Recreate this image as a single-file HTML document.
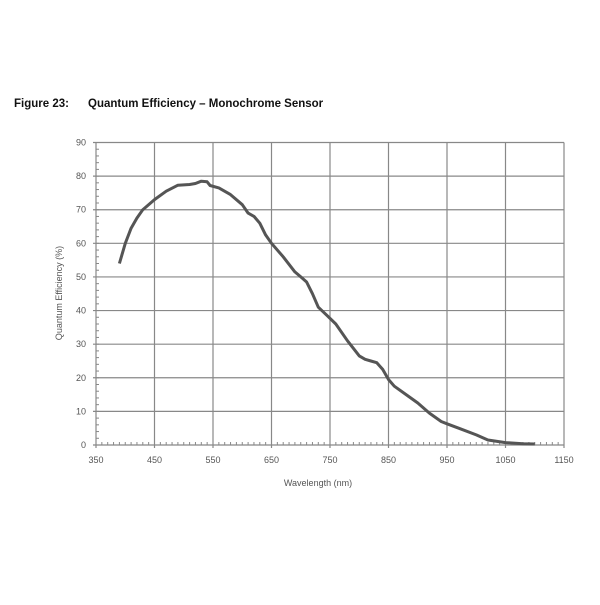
<!DOCTYPE html>
<html><head><meta charset="utf-8"><style>
body{margin:0;background:#fff;}
svg text{font-family:"Liberation Sans",sans-serif;}
</style></head><body>
<svg width="600" height="600" xmlns="http://www.w3.org/2000/svg">
<text x="14" y="107" font-size="11.5" font-weight="bold" fill="#111">Figure 23:</text>
<text x="88" y="107" font-size="11.5" font-weight="bold" fill="#111">Quantum Efficiency – Monochrome Sensor</text>
<g id="grid"></g>
<g id="ticks"></g>
<g id="labels"></g>
<path id="curve" fill="none" stroke="#555" stroke-width="3" stroke-linejoin="round"/>
<text x="318" y="486" font-size="9" fill="#555" text-anchor="middle">Wavelength (nm)</text>
<text transform="translate(62,293) rotate(-90)" font-size="9" fill="#555" text-anchor="middle">Quantum Efficiency (%)</text>
</svg>
<script>
const wavelengths=[390,400,410,420,430,450,470,490,510,520,530,540,545,560,580,600,610,620,630,640,650,670,690,700,710,720,730,745,760,780,800,810,820,830,840,850,860,880,900,920,940,950,970,1000,1020,1050,1080,1100];
const efficiency=[54,60,64.5,67.5,70,73,75.5,77.3,77.5,77.8,78.5,78.3,77.2,76.5,74.5,71.5,69,68,66,62.5,60,56,51.5,50,48.5,45,41,38.5,36,31,26.5,25.5,25,24.5,22.5,19.5,17.5,15,12.5,9.5,7,6.3,5,3,1.5,0.7,0.4,0.3];
const xTicks=[350,450,550,650,750,850,950,1050,1150];
const yTicks=[0,10,20,30,40,50,60,70,80,90];
const X0=96,X1=564,Y0=445,Y1=142.5;
const sx=v=>X0+(v-350)/800*(X1-X0);
const sy=v=>Y0-v/90*(Y0-Y1);
const NS="http://www.w3.org/2000/svg";
function mk(tag,attrs,parent){const e=document.createElementNS(NS,tag);for(const k in attrs)e.setAttribute(k,attrs[k]);document.getElementById(parent).appendChild(e);return e;}
xTicks.forEach(t=>{
 const l=mk('line',{x1:sx(t),x2:sx(t),y1:Y1,y2:Y0+3,stroke:'#888','stroke-width':1.2},'grid');
 
 
 const tx=mk('text',{x:sx(t),y:Y0+18,'font-size':9,fill:'#555','text-anchor':'middle'},'labels');
 tx.textContent=t;
 
 
});
yTicks.forEach(t=>{
 const l=mk('line',{x1:X0-3,x2:X1,y1:sy(t),y2:sy(t),stroke:'#888','stroke-width':1.2},'grid');
 
 
 const tx=mk('text',{x:X0-10,y:sy(t)+3,'font-size':9,fill:'#555','text-anchor':'end'},'labels');
 tx.textContent=t;
 
 
});
for(let v=350;v<=1150;v+=10){const m=mk('line',{x1:sx(v),x2:sx(v),y1:Y0,y2:Y0-3,stroke:'#888','stroke-width':1},'ticks');
 
 }
for(let v=0;v<=90;v+=2){const m=mk('line',{x1:X0,x2:X0+3,y1:sy(v),y2:sy(v),stroke:'#888','stroke-width':1},'ticks');
 
 }
document.getElementById('curve').setAttribute('d',wavelengths.map((w,i)=>(i?'L':'M')+sx(w).toFixed(1)+','+sy(efficiency[i]).toFixed(1)).join(' '));
</script>
</body></html>
